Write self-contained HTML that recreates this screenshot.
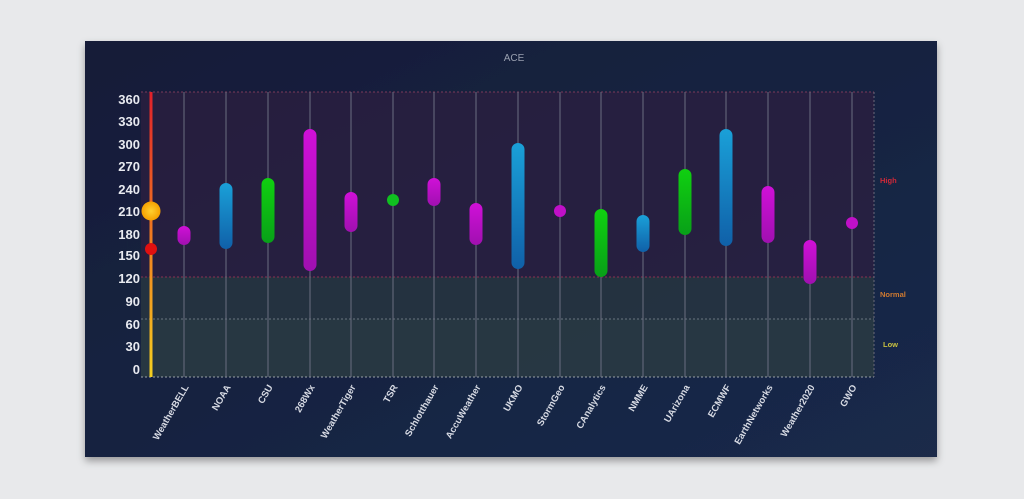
<!DOCTYPE html>
<html><head><style>
body{margin:0;width:1024px;height:499px;background:#e8e9eb;overflow:hidden;font-family:"Liberation Sans",sans-serif}
</style></head><body>
<svg width="1024" height="499" xmlns="http://www.w3.org/2000/svg" style="position:absolute;left:0;top:0">
<defs>
<linearGradient id="bg" x1="0" y1="0" x2="1" y2="1"><stop offset="0" stop-color="#141c38"/><stop offset="1" stop-color="#1a2a4a"/></linearGradient>
<linearGradient id="ax" x1="0" y1="0" x2="0" y2="1"><stop offset="0" stop-color="#e0202a"/><stop offset="0.5" stop-color="#f07a20"/><stop offset="1" stop-color="#f5d020"/></linearGradient>
<linearGradient id="mg" x1="0" y1="0" x2="0" y2="1"><stop offset="0" stop-color="#d010d8"/><stop offset="1" stop-color="#a010b0"/></linearGradient>
<linearGradient id="bl" x1="0" y1="0" x2="0" y2="1"><stop offset="0" stop-color="#1aa0d8"/><stop offset="1" stop-color="#1060a8"/></linearGradient>
<linearGradient id="gr" x1="0" y1="0" x2="0" y2="1"><stop offset="0" stop-color="#10d010"/><stop offset="1" stop-color="#08a018"/></linearGradient>
<radialGradient id="yd"><stop offset="0" stop-color="#ffd030"/><stop offset="1" stop-color="#f5a000"/></radialGradient>
<filter id="sh"><feDropShadow dx="0" dy="4" stdDeviation="4" flood-opacity="0.35"/></filter>
</defs>
<rect x="85" y="41" width="852" height="416" fill="url(#bg)" filter="url(#sh)"/>
<text x="514" y="61" fill="#9aa0b0" font-size="10" text-anchor="middle">ACE</text>
<rect x="141" y="92" width="733" height="185" fill="#2a1f40" opacity="0.8"/>
<rect x="141" y="277" width="733" height="42" fill="#263440" opacity="0.9"/>
<rect x="141" y="319" width="733" height="58" fill="#293a42" opacity="0.9"/>
<g stroke-dasharray="2,2" fill="none">
<line x1="141" y1="92" x2="874" y2="92" stroke="#7a3a5a"/>
<line x1="141" y1="277" x2="874" y2="277" stroke="#8a3050"/>
<line x1="141" y1="319" x2="874" y2="319" stroke="#6a7480"/>
<line x1="141" y1="377" x2="874" y2="377" stroke="#9aa0a8"/>
<line x1="874" y1="92" x2="874" y2="377" stroke="#6a6a7a"/>
</g>
<g stroke="#6a6e80" stroke-width="1">
<line x1="184" y1="92" x2="184" y2="377"/><line x1="226" y1="92" x2="226" y2="377"/><line x1="268" y1="92" x2="268" y2="377"/><line x1="310" y1="92" x2="310" y2="377"/><line x1="351" y1="92" x2="351" y2="377"/><line x1="393" y1="92" x2="393" y2="377"/><line x1="434" y1="92" x2="434" y2="377"/><line x1="476" y1="92" x2="476" y2="377"/><line x1="518" y1="92" x2="518" y2="377"/><line x1="560" y1="92" x2="560" y2="377"/><line x1="601" y1="92" x2="601" y2="377"/><line x1="643" y1="92" x2="643" y2="377"/><line x1="685" y1="92" x2="685" y2="377"/><line x1="726" y1="92" x2="726" y2="377"/><line x1="768" y1="92" x2="768" y2="377"/><line x1="810" y1="92" x2="810" y2="377"/><line x1="852" y1="92" x2="852" y2="377"/>
</g>
<rect x="149.5" y="92" width="3" height="285" fill="url(#ax)"/>
<g fill="#e8eaf0" font-size="13" font-weight="bold" text-anchor="end">
<text x="140" y="104">360</text><text x="140" y="126">330</text><text x="140" y="149">300</text><text x="140" y="171">270</text><text x="140" y="194">240</text><text x="140" y="216">210</text><text x="140" y="239">180</text><text x="140" y="260">150</text><text x="140" y="283">120</text><text x="140" y="306">90</text><text x="140" y="329">60</text><text x="140" y="351">30</text><text x="140" y="374">0</text>
</g>
<g>
<rect x="177.5" y="226" width="13" height="19" rx="6.5" fill="url(#mg)"/>
<rect x="219.5" y="183" width="13" height="66" rx="6.5" fill="url(#bl)"/>
<rect x="261.5" y="178" width="13" height="65" rx="6.5" fill="url(#gr)"/>
<rect x="303.5" y="129" width="13" height="142" rx="6.5" fill="url(#mg)"/>
<rect x="344.5" y="192" width="13" height="40" rx="6.5" fill="url(#mg)"/>
<circle cx="393" cy="200" r="6" fill="#10c020"/>
<rect x="427.5" y="178" width="13" height="28" rx="6.5" fill="url(#mg)"/>
<rect x="469.5" y="203" width="13" height="42" rx="6.5" fill="url(#mg)"/>
<rect x="511.5" y="143" width="13" height="126" rx="6.5" fill="url(#bl)"/>
<circle cx="560" cy="211" r="6" fill="#c010c8"/>
<rect x="594.5" y="209" width="13" height="68" rx="6.5" fill="url(#gr)"/>
<rect x="636.5" y="215" width="13" height="37" rx="6.5" fill="url(#bl)"/>
<rect x="678.5" y="169" width="13" height="66" rx="6.5" fill="url(#gr)"/>
<rect x="719.5" y="129" width="13" height="117" rx="6.5" fill="url(#bl)"/>
<rect x="761.5" y="186" width="13" height="57" rx="6.5" fill="url(#mg)"/>
<rect x="803.5" y="240" width="13" height="44" rx="6.5" fill="url(#mg)"/>
<circle cx="852" cy="223" r="6" fill="#c010c8"/>
</g>
<circle cx="151" cy="211" r="9.5" fill="url(#yd)"/>
<circle cx="151" cy="249" r="6" fill="#e01010"/>
<g font-size="7.5" font-weight="bold">
<text x="880" y="183" fill="#d02838">High</text>
<text x="880" y="297" fill="#d07a30">Normal</text>
<text x="883" y="347" fill="#c8c040">Low</text>
</g>
<g fill="#d8dbe4" font-size="9.5" font-weight="bold" text-anchor="end">
<text transform="translate(189,387) rotate(-60)">WeatherBELL</text>
<text transform="translate(231,387) rotate(-60)">NOAA</text>
<text transform="translate(273,387) rotate(-60)">CSU</text>
<text transform="translate(315,387) rotate(-60)">268Wx</text>
<text transform="translate(356,387) rotate(-60)">WeatherTiger</text>
<text transform="translate(398,387) rotate(-60)">TSR</text>
<text transform="translate(439,387) rotate(-60)">Schlotthauer</text>
<text transform="translate(481,387) rotate(-60)">AccuWeather</text>
<text transform="translate(523,387) rotate(-60)">UKMO</text>
<text transform="translate(565,387) rotate(-60)">StormGeo</text>
<text transform="translate(606,387) rotate(-60)">CAnalytics</text>
<text transform="translate(648,387) rotate(-60)">NMME</text>
<text transform="translate(690,387) rotate(-60)">UArizona</text>
<text transform="translate(731,387) rotate(-60)">ECMWF</text>
<text transform="translate(773,387) rotate(-60)">EarthNetworks</text>
<text transform="translate(815,387) rotate(-60)">Weather2020</text>
<text transform="translate(857,387) rotate(-60)">GWO</text>
</g>
</svg>
</body></html>
